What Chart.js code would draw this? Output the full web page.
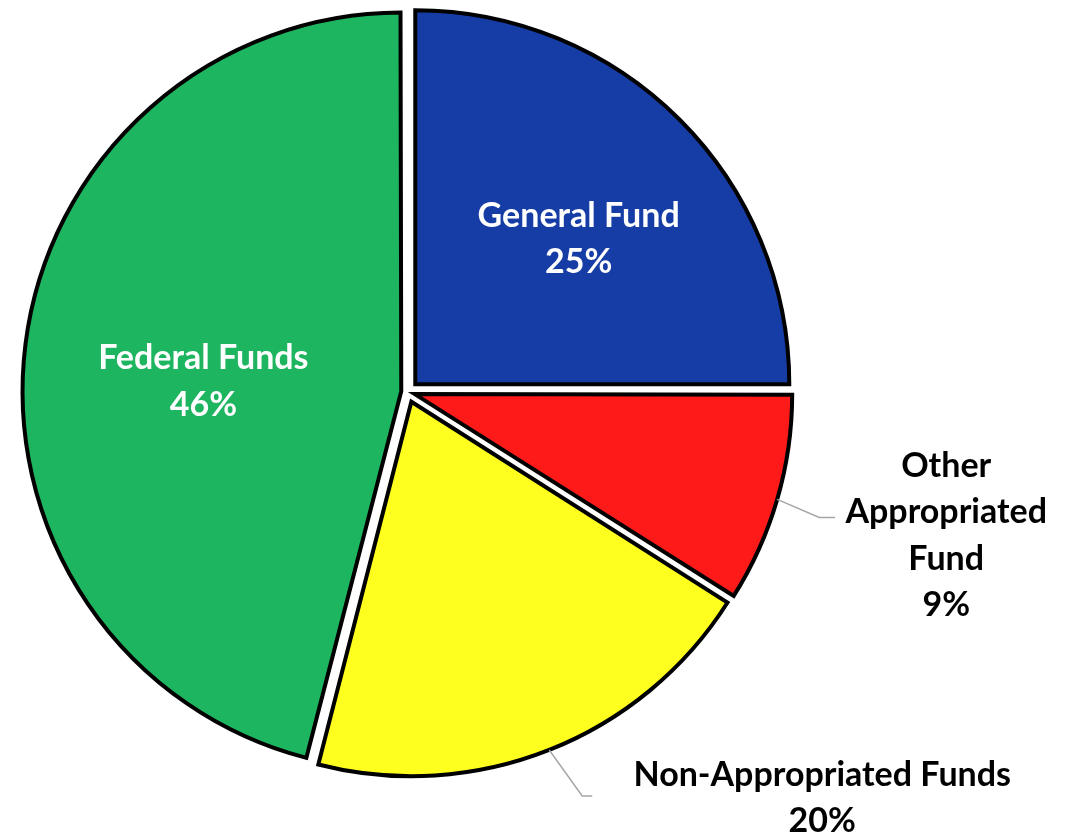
<!DOCTYPE html>
<html>
<head>
<meta charset="utf-8">
<script src="https://cdn.jsdelivr.net/npm/chart.js@4/dist/chart.umd.min.js"></script>
<style>
  html, body { margin: 0; padding: 0; background: #fff; }
</style>
</head>
<body>
<canvas id="chart" width="1078" height="833"></canvas>
<script>
const categories = ['General Fund', 'Other Appropriated Fund', 'Non-Appropriated Funds', 'Federal Funds'];
const shares = [25, 9, 20, 46];
const sliceColors = ['#163da6', '#ff1a1a', '#ffff1f', '#1db55f'];
// how each label is written (line breaks as in the original)
const labelLines = [['General Fund'], ['Other', 'Appropriated', 'Fund'], ['Non-Appropriated Funds'], ['Federal Funds']];

const explode = 11; // px each slice is pulled out

// label placement: inside labels sit along the mid angle, outside ones get a leader line
const labelPlacement = [
    { inside: true, r: 0.58, dx: 10, dy: 8 },
    { inside: false, elbow: [42, 18], end: [58, 18], text: [169, 36] },
    { inside: false, elbow: [33, 46], end: [43, 46], text: [273, 48] },
    { inside: true, r: 0.51, dx: -4, dy: 15 }
];

const total = shares.reduce((a, b) => a + b, 0);

// chart.js moves an arc by offset/4 * (1 + fix); solve for an even explode
function sliceOffset(c) {
    const circ = shares[c.dataIndex] / total * Math.PI * 2;
    const fix = 1 - Math.sin(Math.min(Math.PI, circ));
    return 4 * explode / (1 + fix);
}

const sliceLabels = {
    id: 'sliceLabels',
    afterDatasetsDraw(chart) {
        const ctx = chart.ctx;
        const arcs = chart.getDatasetMeta(0).data;
        const lineH = 46.5;
        ctx.save();
        ctx.font = 'bold 34px Lato';
        ctx.textAlign = 'center';
        ctx.textBaseline = 'middle';
        arcs.forEach((arc, i) => {
            const p = arc.getProps(['x', 'y', 'startAngle', 'endAngle', 'outerRadius']);
            const mid = (p.startAngle + p.endAngle) / 2;
            const ox = p.x + Math.cos(mid) * explode;
            const oy = p.y + Math.sin(mid) * explode;
            const lines = labelLines[i].concat([Math.round(shares[i] / total * 100) + '%']);
            const place = labelPlacement[i];
            let cx, cy;
            if (place.inside) {
                cx = ox + Math.cos(mid) * p.outerRadius * place.r + place.dx;
                cy = oy + Math.sin(mid) * p.outerRadius * place.r + place.dy;
                ctx.fillStyle = '#ffffff';
            } else {
                const ex = ox + Math.cos(mid) * p.outerRadius;
                const ey = oy + Math.sin(mid) * p.outerRadius;
                ctx.strokeStyle = '#a6a6a6';
                ctx.lineWidth = 1.5;
                ctx.beginPath();
                ctx.moveTo(ex, ey);
                ctx.lineTo(ex + place.elbow[0], ey + place.elbow[1]);
                ctx.lineTo(ex + place.end[0], ey + place.end[1]);
                ctx.stroke();
                cx = ex + place.text[0];
                cy = ey + place.text[1];
                ctx.fillStyle = '#000000';
            }
            const top = cy - (lines.length - 1) * lineH / 2;
            lines.forEach((t, k) => ctx.fillText(t, cx, top + k * lineH));
        });
        ctx.restore();
    }
};

new Chart(document.getElementById('chart'), {
    type: 'pie',
    data: {
        labels: categories,
        datasets: [{
            data: shares,
            backgroundColor: sliceColors,
            borderColor: '#000000',
            borderWidth: 4,
            borderJoinStyle: 'miter',
            offset: sliceOffset
        }]
    },
    options: {
        responsive: false,
        animation: false,
        radius: 374,
        layout: { padding: { left: 0, top: 0, right: 263, bottom: 49 } },
        plugins: {
            legend: { display: false },
            tooltip: { enabled: false }
        }
    },
    plugins: [sliceLabels]
});
</script>
</body>
</html>
